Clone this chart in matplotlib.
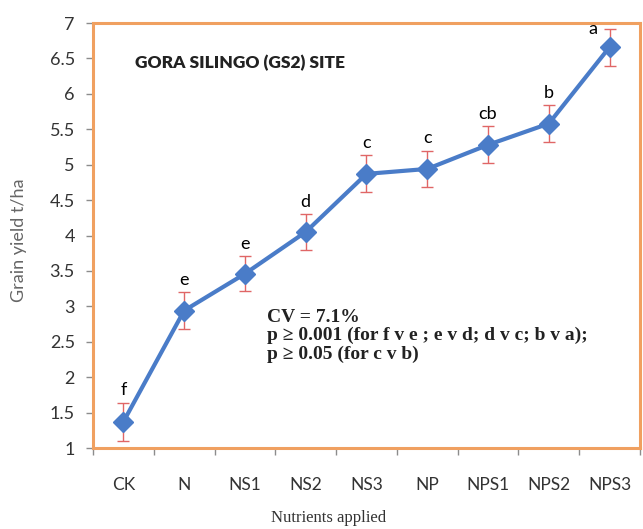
import numpy as np
import matplotlib
matplotlib.use('Agg')
import matplotlib.pyplot as plt

# Grain yield by nutrient treatment, Gora Silingo (GS2) site
treatments = ['CK', 'N', 'NS1', 'NS2', 'NS3', 'NP', 'NPS1', 'NPS2', 'NPS3']
grain_yield = [1.37, 2.94, 3.46, 4.05, 4.87, 4.94, 5.28, 5.58, 6.66]
yield_err = [0.27, 0.26, 0.25, 0.25, 0.26, 0.26, 0.26, 0.26, 0.26]
groups = ['f', 'e', 'e', 'd', 'c', 'c', 'cb', 'b', 'a']
yticks = [1, 1.5, 2, 2.5, 3, 3.5, 4, 4.5, 5, 5.5, 6, 6.5, 7]

orange = '#f0a060'
blue = '#4a7cc8'
grey = '#8c8c8c'
sans = ['Lato', 'DejaVu Sans']
serif = ['Liberation Serif', 'DejaVu Serif']

fig = plt.figure(figsize=(6.43, 5.29), dpi=100)
ax = fig.add_axes([0.1446, 0.1531, 0.8507, 0.8034])

x = np.arange(len(treatments))
ax.errorbar(x, grain_yield, yerr=yield_err, fmt='none', ecolor='#e06666',
            elinewidth=1.0, capsize=4, capthick=1.0, zorder=2)
ax.plot(x, grain_yield, color=blue, lw=3, marker='D', ms=10,
        mec=blue, mfc=blue, zorder=3)

# mean separation letters above the error bars
for i, (v, e, g) in enumerate(zip(grain_yield, yield_err, groups)):
    if i == len(groups) - 1:
        # top label nudged left so it stays inside the frame
        ax.annotate(g, (i, v + e), xytext=(-12, 0), textcoords='offset points',
                    ha='center', va='center', fontsize=13, family=sans,
                    annotation_clip=False, zorder=4)
    else:
        ax.annotate(g, (i, v + e), xytext=(0, 9), textcoords='offset points',
                    ha='center', va='center', fontsize=13, family=sans, zorder=4)

ax.set_xlim(-0.5, len(treatments) - 0.5)
ax.set_ylim(1, 7)
ax.set_yticks(yticks)
ax.set_yticklabels([('%g' % t) for t in yticks], family=sans, fontsize=13,
                   color='#333333')
ax.set_xticks(x)
ax.set_xticklabels(treatments, family=sans, fontsize=12.5, color='#333333')
ax.set_xticks(np.arange(len(treatments) + 1) - 0.5, minor=True)
ax.tick_params(axis='x', which='major', length=0, pad=21)
ax.tick_params(axis='x', which='minor', length=5, width=1, color=grey,
               direction='out')
ax.tick_params(axis='y', length=5, width=1, color=grey, direction='out', pad=8)

for s in ax.spines.values():
    s.set_color(orange)
    s.set_linewidth(2.2)

ax.set_ylabel('Grain yield t/ha', family=sans, fontsize=13, color='#666666')
ax.yaxis.set_label_coords(-0.12, 0.49)
ax.set_xlabel('Nutrients applied', family=serif, fontsize=12,
              color='#333333')
ax.xaxis.set_label_coords(0.43, -0.145)

ax.text(0.077, 0.906, 'GORA SILINGO (GS2) SITE', transform=ax.transAxes,
        family=sans, fontweight='heavy', fontsize=12.5,
        va='center', ha='left', color='#222222')

ax.text(0.318, 0.327,
        'CV = 7.1%\n'
        'p \u2265 0.001 (for f v e ; e v d; d v c; b v a);\n'
        'p \u2265 0.05 (for c v b)',
        transform=ax.transAxes, family=serif, fontweight='bold',
        fontsize=14, va='top', ha='left', linespacing=1.08,
        color='#222222')

fig.savefig('out.png', dpi=100)
